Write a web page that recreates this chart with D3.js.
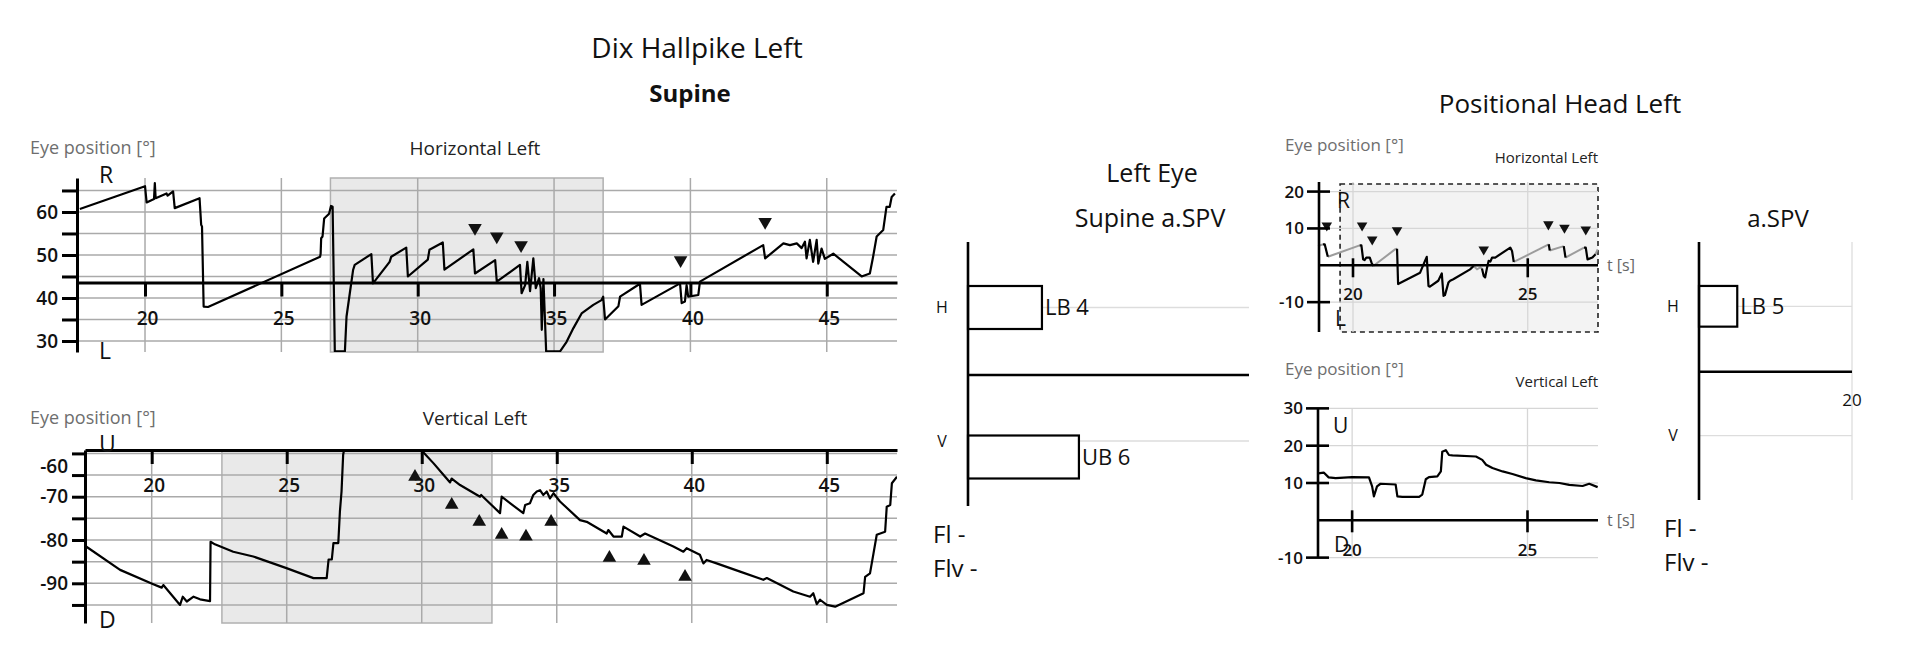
<!DOCTYPE html>
<html>
<head>
<meta charset="utf-8">
<script src="https://cdn.jsdelivr.net/npm/d3@7"></script>
<style>
  body { margin: 0; background: #fff; }
  svg { display: block; font-family: "Open Sans", sans-serif; }
</style>
</head>
<body>
<svg id="chart" width="1920" height="653"></svg>
<script>
// ---- data: [time s, eye position deg] ----
const TIME_TICKS = [20, 25, 30, 35, 40, 45];
const SMALL_TIME_TICKS = [20, 25];

const H_TICKS = [30, 35, 40, 45, 50, 55, 60, 65];
const V_TICKS = [-60, -65, -70, -75, -80, -85, -90, -95];
const SMALL_H_TICKS = [20, 10, -10];
const SMALL_V_TICKS = [30, 20, 10, -10];

const H_SHADE = [26.8, 36.8];
const V_SHADE = [22.6, 32.6];
const SMALL_H_WINDOW = [19.63, 27.01];

const H_TRACE = [
  [17.61,60.7],[20.0,66.0],[20.06,62.2],[20.33,63.0],[20.36,66.7],[20.39,63.2],[20.79,64.3],[20.83,63.8],
  [21.03,64.8],[21.09,60.9],[22.0,63.2],[22.06,57.0],[22.09,56.6],[22.15,38.0],[22.31,37.9],[26.42,49.6],
  [26.44,50.3],[26.46,53.9],[26.51,54.3],[26.57,58.5],[26.75,59.6],[26.82,61.4],[26.88,61.2],[26.96,27.6],
  [27.33,27.6],[27.39,35.7],[27.51,41.1],[27.63,46.5],[27.69,47.7],[28.30,50.2],[28.36,43.4],[28.97,48.4],
  [29.03,49.6],[29.58,51.7],[29.64,45.0],[30.37,48.9],[30.43,51.2],[30.92,52.9],[30.98,46.6],[32.04,51.3],
  [32.10,45.7],[32.84,48.8],[32.90,43.8],[33.75,47.7],[33.81,41.1],[33.94,43.0],[34.02,48.4],[34.12,41.6],
  [34.24,49.2],[34.33,42.3],[34.45,44.6],[34.51,42.3],[34.55,32.6],[34.61,44.4],[34.71,27.6],[35.22,27.6],
  [35.46,29.8],[35.71,33.0],[36.01,36.4],[36.44,38.4],[36.74,39.5],[36.80,40.3],[36.87,35.0],[37.36,38.1],
  [37.42,40.3],[38.15,43.3],[38.21,38.4],[39.62,43.4],[39.68,38.8],[39.80,39.2],[39.86,43.0],[39.92,40.3],
  [40.29,40.7],[40.35,43.8],[42.67,52.3],[42.74,49.2],[43.41,52.7],[43.65,52.3],[43.90,52.7],[44.08,51.6],
  [44.20,53.1],[44.26,49.2],[44.38,53.5],[44.50,48.4],[44.63,53.5],[44.69,48.0],[44.81,51.5],[44.93,49.1],
  [45.24,50.3],[46.28,45.0],[46.58,45.7],[46.70,49.6],[46.83,54.3],[47.07,55.8],[47.19,61.2],[47.31,61.2],
  [47.38,63.5],[47.50,64.3]
];
const H_MARKS = [[32.10,56.3],[32.90,54.3],[33.79,52.3],[39.64,48.8],[42.74,57.7]];

const V_TRACE = [
  [17.57,-81.5],[18.83,-86.9],[20.06,-90.2],[20.37,-91.0],[20.43,-90.4],[21.05,-95.0],[21.15,-93.1],[21.30,-94.2],
  [21.55,-93.1],[21.79,-93.7],[22.16,-94.1],[22.18,-80.4],[22.34,-81.0],[23.02,-82.7],[23.76,-83.8],[24.99,-86.5],
  [25.99,-88.8],[26.48,-88.8],[26.55,-84.5],[26.67,-84.5],[26.73,-80.7],[26.91,-80.7],[26.97,-73.4],[27.03,-68.8],
  [27.09,-60.3],[27.16,-58.0],[29.96,-58.0],[30.04,-59.6],[30.44,-62.3],[30.81,-65.0],[31.05,-66.7],[31.11,-65.8],
  [31.42,-67.3],[32.16,-70.0],[32.20,-69.6],[32.90,-73.8],[32.96,-70.0],[33.76,-73.8],[33.83,-71.9],[34.01,-71.5],
  [34.13,-69.6],[34.26,-68.8],[34.38,-68.5],[34.50,-69.6],[34.63,-68.8],[34.75,-70.4],[34.88,-69.2],[35.12,-71.1],
  [35.86,-75.4],[36.11,-75.8],[36.85,-78.5],[36.91,-77.7],[37.10,-79.2],[37.41,-79.2],[37.47,-76.9],[38.09,-79.2],
  [38.27,-78.5],[39.32,-81.5],[39.69,-82.7],[39.81,-81.9],[40.30,-83.4],[40.43,-85.4],[40.55,-84.6],[40.92,-85.4],
  [41.79,-87.3],[42.65,-89.2],[42.78,-88.8],[43.76,-91.9],[44.38,-93.1],[44.50,-92.3],[44.63,-94.8],[44.75,-93.8],
  [45.00,-95.0],[45.31,-95.4],[46.36,-92.3],[46.42,-88.5],[46.60,-87.7],[46.73,-83.1],[46.85,-78.8],[47.16,-78.1],
  [47.22,-72.3],[47.35,-71.9],[47.41,-66.9],[47.60,-65.4]
];
const V_MARKS = [[29.75,-65.4],[31.11,-71.9],[32.13,-75.8],[32.96,-78.8],[33.86,-79.2],[34.79,-75.8],
                 [36.95,-84.1],[38.23,-84.8],[39.75,-88.5]];

// positional head: grey = slow phase shown faint, black = marked part
const SMALL_H_GREY = [
  [[19.0,5.2],[19.14,5.7]],
  [[19.28,2.3],[20.19,5.4]],
  [[20.58,-0.2],[21.2,4.3],[21.26,4.5]],
  [[23.45,-0.2],[23.55,-1.1],[23.64,-0.6],[23.69,-0.9]],
  [[24.6,0.9],[25.6,5.7]],
  [[25.63,4.0],[26.03,5.2]],
  [[26.08,2.1],[26.61,4.8]],
  [[26.94,3.0],[27.0,4.3]]
];
const SMALL_H_BLACK = [
  [[19.14,5.7],[19.19,5.7],[19.28,2.3]],
  [[20.19,5.4],[20.24,5.4],[20.29,1.6],[20.33,1.4],[20.38,2.1],[20.48,2.1],[20.53,0.7],[20.58,-0.2]],
  [[21.26,4.5],[21.29,-5.1],[21.92,-2.0],[22.06,1.2],[22.11,2.3],[22.16,-5.6],[22.2,-5.8],[22.44,-4.2],
   [22.54,-2.2],[22.59,-8.3],[22.63,-8.1],[22.73,-4.7],[22.78,-4.2],[22.87,-3.8],[23.35,-1.1],[23.45,-0.2]],
  [[23.69,-0.9],[23.74,-2.9],[23.78,-3.3],[23.83,-0.9],[23.88,1.2],[23.93,1.0],[23.98,2.1],[24.07,2.1],
   [24.5,4.8],[24.55,3.9],[24.6,0.9]],
  [[25.6,5.7],[25.63,4.0]],
  [[26.03,5.2],[26.08,2.1]],
  [[26.61,4.8],[26.66,4.8],[26.71,1.6],[26.85,2.1],[26.94,3.0]]
];
const SMALL_H_MARKS = [[19.25,10.8],[20.26,10.8],[20.55,7.0],[21.26,9.5],[23.74,4.3],[25.59,11.1],[26.05,10.2],[26.66,9.7]];

const SMALL_V_TRACE = [
  [19.03,12.6],[19.19,12.8],[19.33,11.5],[19.53,11.3],[20.0,11.6],[20.48,11.5],[20.57,9.1],[20.62,6.4],
  [20.71,9.1],[20.81,9.8],[21.24,9.6],[21.29,6.4],[21.43,6.3],[21.91,6.3],[22.0,6.9],[22.1,11.0],
  [22.19,11.6],[22.43,11.8],[22.53,13.1],[22.57,18.4],[22.67,18.8],[22.76,17.5],[22.86,17.4],[23.53,17.1],
  [23.71,16.2],[23.82,14.9],[24.0,14.0],[24.29,13.1],[24.57,12.4],[24.95,11.3],[25.24,10.7],[25.62,10.2],
  [25.91,10.0],[26.19,9.5],[26.57,9.2],[26.76,9.8],[27.0,8.9]
];

// a.SPV bars
const SPV_CATEGORIES = ["H", "V"];
const SUPINE_SPV = [{ cat: "H", dir: "LB", value: 4 }, { cat: "V", dir: "UB", value: 6 }];
const HEAD_SPV = [{ cat: "H", dir: "LB", value: 5 }];

// ---------------------------------------------------------------
const svg = d3.select("#chart");
const defs = svg.append("defs");
const line = (x, y) => d3.line().x(d => x(d[0])).y(d => y(d[1]));

function addText(x, y, str, size, opts = {}) {
  return svg.append("text").attr("x", x).attr("y", y)
    .attr("font-size", size)
    .attr("font-weight", opts.weight || 400)
    .attr("fill", opts.fill || "#111")
    .attr("text-anchor", opts.anchor || "start")
    .text(str);
}

function styleAxis(g, w, size) {
  g.attr("font-family", null).attr("font-size", size);
  g.select(".domain").attr("stroke", "#000").attr("stroke-width", w);
  g.selectAll(".tick line").attr("stroke", "#000").attr("stroke-width", w);
  g.selectAll(".tick text").attr("fill", "#111").attr("font-weight", 600);
}

// main Dix Hallpike traces
function drawMain(o) {
  const x = d3.scaleLinear().domain(o.tDomain).range([o.left, o.right]);
  const y = d3.scaleLinear().domain(o.vDomain).range([o.bottom, o.top]);
  const g = svg.append("g");

  g.append("rect")
    .attr("x", x(o.shade[0])).attr("y", o.top)
    .attr("width", x(o.shade[1]) - x(o.shade[0])).attr("height", o.bottom - o.top)
    .attr("fill", "#e9e9e9").attr("stroke", "#b0b0b0").attr("stroke-width", 1.5);

  g.selectAll(".hgrid").data(o.vTicks).join("line")
    .attr("x1", o.left).attr("x2", o.right)
    .attr("y1", d => y(d)).attr("y2", d => y(d))
    .attr("stroke", "#aaa").attr("stroke-width", 1.5);
  g.selectAll(".vgrid").data(TIME_TICKS).join("line")
    .attr("x1", d => x(d)).attr("x2", d => x(d))
    .attr("y1", o.top).attr("y2", o.bottom)
    .attr("stroke", "#aaa").attr("stroke-width", 1.5);

  defs.append("clipPath").attr("id", o.id + "-clip")
    .append("rect").attr("x", o.left).attr("y", o.top)
    .attr("width", o.right - o.left).attr("height", o.bottom - o.top);

  g.append("path").datum(o.trace)
    .attr("clip-path", `url(#${o.id}-clip)`)
    .attr("d", line(x, y))
    .attr("fill", "none").attr("stroke", "#000").attr("stroke-width", 2.2)
    .attr("stroke-linejoin", "round");

  g.selectAll(".mark").data(o.marks).join("path")
    .attr("transform", d => `translate(${x(d[0])},${y(d[1])}) rotate(${o.down ? 180 : 0})`)
    .attr("d", d3.symbol().type(d3.symbolTriangle).size(80))
    .attr("fill", "#111");

  const yAxis = g.append("g").attr("transform", `translate(${o.left},0)`)
    .call(d3.axisLeft(y).tickValues(o.vTicks).tickSize(o.tickLen).tickSizeOuter(0)
      .tickPadding(4).tickFormat(d => d % 10 === 0 ? d : ""));
  styleAxis(yAxis, 3, 19);
  if (o.firstLabelDy) yAxis.selectAll(".tick text").filter(d => d === o.vTicks[0]).attr("dy", o.firstLabelDy);

  const xAxis = g.append("g").attr("transform", `translate(0,${y(o.axisAt)})`)
    .call(d3.axisBottom(x).tickValues(TIME_TICKS).tickSize(14).tickSizeOuter(0).tickPadding(15));
  styleAxis(xAxis, 3, 19);
  xAxis.selectAll(".tick text").attr("dx", 2);
}

drawMain({
  id: "hmain", left: 77, right: 897, top: 178, bottom: 352,
  tDomain: [17.506, 47.576], vDomain: [27.44, 67.9], axisAt: 43.6,
  vTicks: H_TICKS, shade: H_SHADE, trace: H_TRACE, marks: H_MARKS, down: true, tickLen: 15
});
drawMain({
  id: "vmain", left: 85, right: 897, top: 450, bottom: 623,
  tDomain: [17.53, 47.6], vDomain: [-99.17, -59.21], axisAt: -59.21,
  vTicks: V_TICKS, shade: V_SHADE, trace: V_TRACE, marks: V_MARKS, down: false, tickLen: 13,
  firstLabelDy: "1.02em"
});

// positional head small traces
function drawSmall(o) {
  const x = d3.scaleLinear().domain([19.027, 27.01]).range([o.left, 1598]);
  const y = d3.scaleLinear().domain(o.vDomain).range([o.bottom, o.top]);
  const g = svg.append("g");

  if (o.window) {
    g.append("rect")
      .attr("x", x(o.window[0])).attr("y", o.top + 2)
      .attr("width", x(o.window[1]) - x(o.window[0])).attr("height", o.bottom - o.top - 2)
      .attr("fill", "#f3f3f3").attr("stroke", "#222").attr("stroke-width", 1.6)
      .attr("stroke-dasharray", "5,4");
  }
  g.selectAll(".hgrid").data(o.vTicks).join("line")
    .attr("x1", o.left).attr("x2", 1598)
    .attr("y1", d => y(d)).attr("y2", d => y(d))
    .attr("stroke", "#d6d6d6").attr("stroke-width", 1.3);
  g.selectAll(".vgrid").data(SMALL_TIME_TICKS).join("line")
    .attr("x1", d => x(d)).attr("x2", d => x(d))
    .attr("y1", o.top).attr("y2", o.bottom)
    .attr("stroke", "#d6d6d6").attr("stroke-width", 1.3);

  const l = line(x, y);
  (o.grey || []).forEach(seg => g.append("path").attr("d", l(seg))
    .attr("fill", "none").attr("stroke", "#9c9c9c").attr("stroke-width", 2));
  o.black.forEach(seg => g.append("path").attr("d", l(seg))
    .attr("fill", "none").attr("stroke", "#000").attr("stroke-width", 2.2).attr("stroke-linejoin", "round"));

  g.selectAll(".mark").data(o.marks || []).join("path")
    .attr("transform", d => `translate(${x(d[0])},${y(d[1])}) rotate(180)`)
    .attr("d", d3.symbol().type(d3.symbolTriangle).size(48))
    .attr("fill", "#111");

  // axes with ticks crossing the lines
  const y0 = y(0);
  g.append("line").attr("x1", o.left).attr("x2", o.left).attr("y1", o.top).attr("y2", o.bottom)
    .attr("stroke", "#000").attr("stroke-width", 2.6);
  g.append("line").attr("x1", o.left).attr("x2", 1598).attr("y1", y0).attr("y2", y0)
    .attr("stroke", "#000").attr("stroke-width", 2.6);
  g.selectAll(".ytick").data(o.vTicks).join("line")
    .attr("x1", o.left - 12).attr("x2", o.left + 11)
    .attr("y1", d => y(d)).attr("y2", d => y(d))
    .attr("stroke", "#000").attr("stroke-width", 2.6);
  g.selectAll(".ylab").data(o.vTicks).join("text")
    .attr("x", o.left - 15).attr("y", d => y(d)).attr("dy", "0.35em")
    .attr("text-anchor", "end").attr("font-size", 17).attr("font-weight", 600).attr("fill", "#111")
    .text(d => d);
  g.selectAll(".xtick").data(SMALL_TIME_TICKS).join("line")
    .attr("x1", d => x(d)).attr("x2", d => x(d))
    .attr("y1", y0 - o.xTickUp).attr("y2", y0 + 12)
    .attr("stroke", "#000").attr("stroke-width", 2.6);
  g.selectAll(".xlab").data(SMALL_TIME_TICKS).join("text")
    .attr("x", d => x(d)).attr("y", y0 + o.xLabelDy)
    .attr("text-anchor", "middle").attr("font-size", 17).attr("font-weight", 600).attr("fill", "#111")
    .text(d => d);
  addText(1607, y0 + 6, "t [s]", 16, { fill: "#666" });
}

drawSmall({
  left: 1319, top: 182, bottom: 332, vDomain: [-18.1, 22.6], vTicks: SMALL_H_TICKS,
  window: SMALL_H_WINDOW, grey: SMALL_H_GREY, black: SMALL_H_BLACK, marks: SMALL_H_MARKS,
  xTickUp: 7, xLabelDy: 35
});
drawSmall({
  left: 1318, top: 408, bottom: 558, vDomain: [-10.1, 30.1], vTicks: SMALL_V_TICKS,
  black: [SMALL_V_TRACE], xTickUp: 10, xLabelDy: 36
});

// a.SPV bar panels
function drawBars(o) {
  const x = d3.scaleLinear().domain(o.xDomain).range([o.left, o.right]);
  const y = d3.scaleOrdinal().domain(SPV_CATEGORIES).range(o.catY);
  const g = svg.append("g");

  g.selectAll(".grid").data(SPV_CATEGORIES).join("line")
    .attr("x1", o.left).attr("x2", o.right)
    .attr("y1", d => y(d)).attr("y2", d => y(d))
    .attr("stroke", "#ddd").attr("stroke-width", 1.3);
  if (o.endTick) {
    g.append("line").attr("x1", x(o.endTick)).attr("x2", x(o.endTick))
      .attr("y1", o.top).attr("y2", o.bottom)
      .attr("stroke", "#ddd").attr("stroke-width", 1.3);
    g.append("text").attr("x", x(o.endTick)).attr("y", o.divider + 34)
      .attr("text-anchor", "middle").attr("font-size", 17).attr("fill", "#111").text(o.endTick);
  }
  g.append("line").attr("x1", o.left).attr("x2", o.right).attr("y1", o.divider).attr("y2", o.divider)
    .attr("stroke", "#000").attr("stroke-width", 2.4);

  g.selectAll(".bar").data(o.data).join("rect")
    .attr("x", x(0)).attr("y", d => y(d.cat) + o.shift[d.cat] - o.barH / 2)
    .attr("width", d => x(d.value) - x(0)).attr("height", o.barH)
    .attr("fill", "#fff").attr("stroke", "#000").attr("stroke-width", 2.2);
  g.selectAll(".val").data(o.data).join("text")
    .attr("x", d => x(d.value) + 3).attr("y", d => y(d.cat) + o.shift[d.cat]).attr("dy", "0.35em")
    .attr("font-size", 22).attr("fill", "#111")
    .text(d => `${d.dir} ${d.value}`);
  g.selectAll(".cat").data(SPV_CATEGORIES).join("text")
    .attr("x", o.left - 26).attr("y", d => y(d)).attr("dy", "0.35em")
    .attr("text-anchor", "middle").attr("font-size", 16).attr("fill", "#111")
    .text(d => d);

  g.append("line").attr("x1", o.left).attr("x2", o.left).attr("y1", o.top).attr("y2", o.bottom)
    .attr("stroke", "#000").attr("stroke-width", 2.6);

  addText(o.left - 35, o.bottom + 37, "Fl -", 24);
  addText(o.left - 35, o.bottom + 71, "Flv -", 24);
}

drawBars({
  left: 968, right: 1249, top: 242, bottom: 506, xDomain: [0, 15.2],
  catY: [307.5, 441], shift: { H: 0, V: 16 }, barH: 43, divider: 375, data: SUPINE_SPV
});
drawBars({
  left: 1699, right: 1852, top: 242, bottom: 500, xDomain: [0, 20], endTick: 20,
  catY: [306.3, 435.7], shift: { H: 0, V: 0 }, barH: 40.7, divider: 371.7, data: HEAD_SPV
});

// titles and labels
addText(697, 58, "Dix Hallpike Left", 28, { anchor: "middle" });
addText(690, 102, "Supine", 24, { anchor: "middle", weight: 700 });
addText(1560, 113, "Positional Head Left", 26, { anchor: "middle" });
addText(1152, 182, "Left Eye", 25, { anchor: "middle" });
addText(1150, 227, "Supine a.SPV", 25, { anchor: "middle" });
addText(1778, 227, "a.SPV", 24, { anchor: "middle" });

addText(30, 154, "Eye position [°]", 18, { fill: "#6e6e6e" });
addText(30, 424, "Eye position [°]", 18, { fill: "#6e6e6e" });
addText(475, 155, "Horizontal Left", 19, { anchor: "middle", fill: "#222" });
addText(475, 425, "Vertical Left", 19, { anchor: "middle", fill: "#222" });
addText(1285, 151, "Eye position [°]", 17, { fill: "#6e6e6e" });
addText(1285, 375, "Eye position [°]", 17, { fill: "#6e6e6e" });
addText(1598, 163, "Horizontal Left", 15, { anchor: "end", fill: "#222" });
addText(1598, 387, "Vertical Left", 15, { anchor: "end", fill: "#222" });

addText(99, 183, "R", 23);
addText(99, 359, "L", 23);
addText(99, 452, "U", 23);
addText(99, 628, "D", 23);
addText(1337, 208, "R", 21);
addText(1335, 326, "L", 21);
addText(1333, 433, "U", 21);
addText(1334, 552, "D", 21);
</script>
</body>
</html>
